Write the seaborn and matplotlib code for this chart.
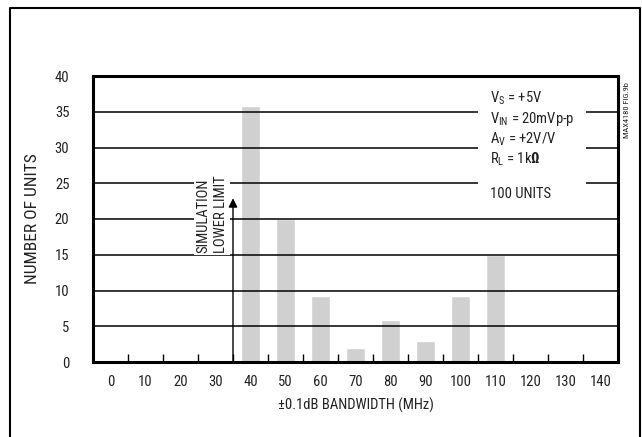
import matplotlib
matplotlib.use("Agg")
import matplotlib.pyplot as plt
from matplotlib.lines import Line2D
from matplotlib import font_manager
import seaborn as sns
import pandas as pd

# histogram data: bandwidth bins (MHz) and number of units
bandwidth_mhz = [0, 10, 20, 30, 40, 50, 60, 70, 80, 90, 100, 110, 120, 130, 140]
units = [0, 0, 0, 0, 35.8, 20, 9.2, 1.9, 5.9, 2.9, 9.3, 15, 0, 0, 0]
y_ticks = [0, 5, 10, 15, 20, 25, 30, 35, 40]
grid_levels = [5, 10, 15, 20, 25, 30, 35]
lower_limit_mhz = 35
arrow_top = 22.9

sns.set_theme(style="white")
installed = {f.name for f in font_manager.fontManager.ttflist}
narrow = next((n for n in ["Roboto Condensed", "Liberation Sans Narrow", "Open Sans Condensed",
                           "Roboto", "Liberation Sans"] if n in installed), "DejaVu Sans")
plt.rcParams["font.family"] = [narrow, "DejaVu Sans"]
plt.rcParams["mathtext.fontset"] = "custom"
plt.rcParams["mathtext.rm"] = narrow
plt.rcParams["mathtext.bf"] = narrow + ":bold"
TXT = "#222222"
FS = 10.5

df = pd.DataFrame({"bw": [str(b) for b in bandwidth_mhz], "units": units})

fig = plt.figure(figsize=(6.42, 4.37), dpi=100)
ax = fig.add_axes([93 / 642, 75 / 437, 525 / 642, 286 / 437])

sns.barplot(data=df, x="bw", y="units", order=df["bw"], color="#d0d0d0",
            width=0.57, saturation=1, ax=ax, zorder=1)

# horizontal grid over the bars
for g in grid_levels:
    ax.axhline(g, color="black", lw=1.1, zorder=2)

ax.set_xlim(-0.5, len(bandwidth_mhz) - 0.5)
ax.set_ylim(0, 40)
ax.set_yticks(y_ticks)
ax.tick_params(axis="y", length=0, pad=17, labelsize=FS, labelcolor=TXT)
ax.tick_params(axis="x", which="major", length=0, pad=9, labelsize=FS, labelcolor=TXT)
ax.set_xticks([i + 0.5 for i in range(len(bandwidth_mhz) - 1)], minor=True)
ax.tick_params(axis="x", which="minor", direction="in", length=6, width=1,
               color="black", bottom=True)
for s in ax.spines.values():
    s.set_visible(True)
    s.set_linewidth(2.2)
    s.set_color("black")
    s.set_zorder(6)

ax.set_xlabel("±0.1dB BANDWIDTH (MHz)", fontsize=FS, color=TXT)
ax.set_ylabel("NUMBER OF UNITS", fontsize=12.5, color=TXT)
ax.xaxis.set_label_coords(0.5, -0.125)
ax.yaxis.set_label_coords(-0.1, 0.5)

# simulation lower limit arrow
lim_x = bandwidth_mhz.index(lower_limit_mhz - 5) + 0.5
ax.annotate("", xy=(lim_x, arrow_top), xytext=(lim_x, 0),
            arrowprops=dict(arrowstyle="-|>", color="black", lw=1,
                            mutation_scale=13, shrinkA=0, shrinkB=0), zorder=5)
ax.text(lim_x - 0.6, 15.3, "SIMULATION\nLOWER LIMIT", rotation=90,
        ha="center", va="bottom", multialignment="left", fontsize=FS,
        color=TXT, linespacing=1.35, zorder=4,
        bbox=dict(boxstyle="square,pad=0.15", fc="white", ec="none"))

# conditions block
ax.text(0.756, 0.953,
        "V$_{\\rm S}$ = +5V\nV$_{\\rm IN}$ = 20mVp-p\nA$_{\\rm V}$ = +2V/V\n"
        "R$_{\\rm L}$ = 1k$\\mathbf{\\Omega}$\n\n100 UNITS",
        transform=ax.transAxes, ha="left", va="top", fontsize=FS,
        color=TXT, linespacing=1.2, zorder=4,
        bbox=dict(boxstyle="square,pad=0.8", fc="white", ec="none"))

fig.text(627 / 642, 1 - 82 / 437, "MAX4180 FIG.9b", rotation=90, ha="center",
         va="top", fontsize=6, color=TXT)

# outer frame (open at bottom)
fig.add_artist(Line2D([10 / 642, 10 / 642, 640 / 642, 640 / 642],
                      [0, 1 - 8 / 437, 1 - 8 / 437, 0],
                      transform=fig.transFigure, color="black", lw=1.5))

fig.savefig("out.png", dpi=100)
